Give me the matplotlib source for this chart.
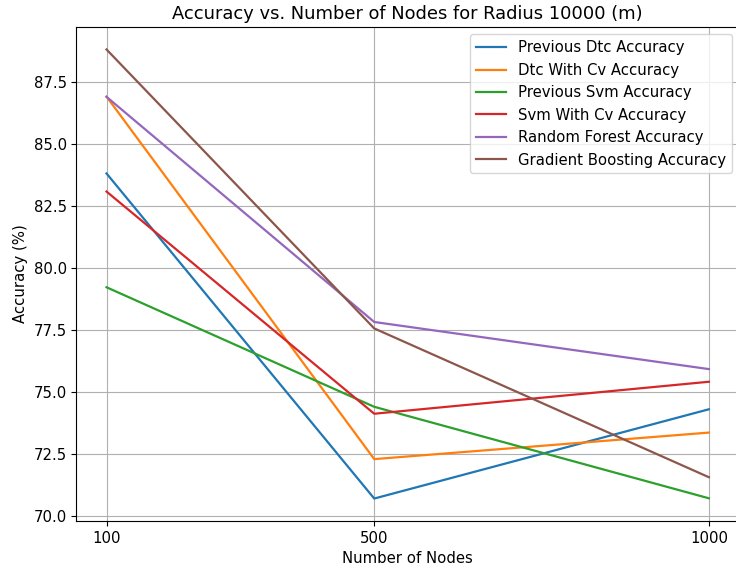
import matplotlib
matplotlib.use("Agg")
import matplotlib.pyplot as plt

nodes = [100, 500, 1000]
previous_dtc = [83.82, 70.71, 74.31]
dtc_with_cv = [86.92, 72.30, 73.37]
previous_svm = [79.23, 74.41, 70.72]
svm_with_cv = [83.09, 74.13, 75.42]
random_forest = [86.91, 77.83, 75.93]
gradient_boosting = [88.82, 77.57, 71.57]

series = [
    ("Previous Dtc Accuracy", previous_dtc),
    ("Dtc With Cv Accuracy", dtc_with_cv),
    ("Previous Svm Accuracy", previous_svm),
    ("Svm With Cv Accuracy", svm_with_cv),
    ("Random Forest Accuracy", random_forest),
    ("Gradient Boosting Accuracy", gradient_boosting),
]

plt.rcParams["font.size"] = 10.7

W, H = 736, 571
fig = plt.figure(figsize=(W / 100, H / 100), dpi=100)
left, right, top, bottom = 76.4, 739.0, 27.0, 521.0
ax = fig.add_axes([left / W, 1 - bottom / H, (right - left) / W, (bottom - top) / H])

for label, vals in series:
    ax.plot(nodes, vals, label=label, linewidth=1.6)

ax.set_xticks(nodes)
ax.set_xlabel("Number of Nodes")
ax.set_ylabel("Accuracy (%)")
ax.set_title("Accuracy vs. Number of Nodes for Radius 10000 (m)")
ax.grid(True)
ax.legend(loc="upper right")

fig.savefig("out.png", dpi=100)
